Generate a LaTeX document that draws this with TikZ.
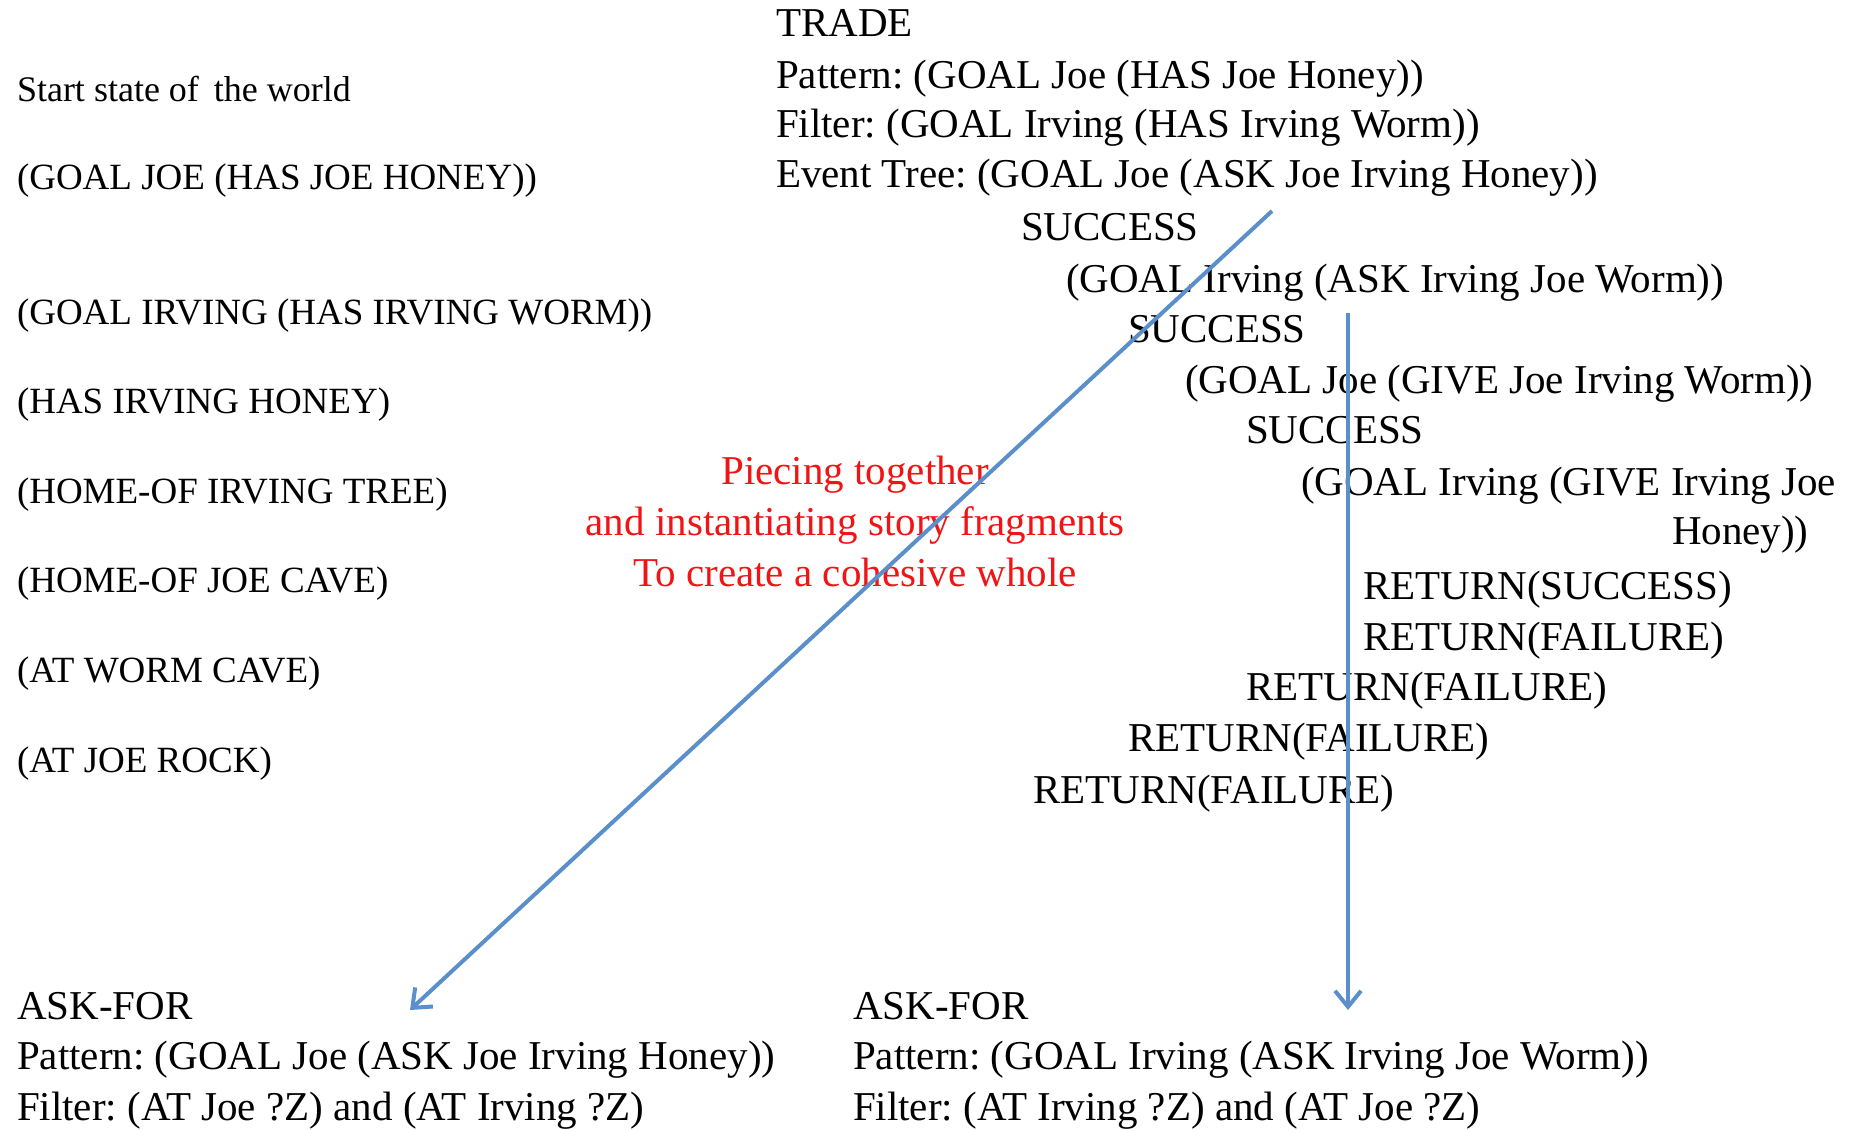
\documentclass[tikz,border=0pt]{standalone}
\usepackage{fontspec}
\setmainfont{Liberation Serif}
\usetikzlibrary{arrows.meta}
\definecolor{arrowblue}{RGB}{91,143,201}
\definecolor{txtred}{RGB}{240,20,20}
\begin{document}
\frenchspacing
\begin{tikzpicture}[x=1pt,y=-1pt,
  txt/.style={anchor=base west,inner sep=0pt,outer sep=0pt,font=\fontsize{41}{46}\selectfont},
  lefttxt/.style={anchor=base west,inner sep=0pt,outer sep=0pt,font=\fontsize{37}{42}\selectfont},
  redtxt/.style={anchor=base,inner sep=0pt,outer sep=0pt,text=txtred,font=\fontsize{41}{46}\selectfont},
  link/.style={draw=arrowblue,line width=4pt,-{Straight Barb[length=16pt,width=26pt,line width=4pt]}}]
\useasboundingbox (0,0) rectangle (1864,1130);
% left column
\node[lefttxt,font=\fontsize{36}{40}\selectfont] (start) at (17,101) {Start state of\, the world};
\node[lefttxt] (l1) at (17,189) {(GOAL JOE (HAS JOE HONEY))};
\node[lefttxt] (l2) at (17,324) {(GOAL IRVING (HAS IRVING WORM))};
\node[lefttxt] (l3) at (17,413) {(HAS IRVING HONEY)};
\node[lefttxt] (l4) at (17,503) {(HOME-OF IRVING TREE)};
\node[lefttxt] (l5) at (17,592) {(HOME-OF JOE CAVE)};
\node[lefttxt] (l6) at (17,682) {(AT WORM CAVE)};
\node[lefttxt] (l7) at (17,772) {(AT JOE ROCK)};
% TRADE block
\node[txt] (trade) at (776,36) {TRADE};
\node[txt] (tpat) at (776,88) {Pattern: (GOAL Joe (HAS Joe Honey))};
\node[txt] (tfil) at (776,137) {Filter: (GOAL Irving (HAS Irving Worm))};
\node[txt] (tev) at (776,187) {Event Tree: (GOAL Joe (ASK Joe Irving Honey))};
\node[txt] (s1) at (1021,240) {SUCCESS};
\node[txt] (g2) at (1066,292) {(GOAL Irving (ASK Irving Joe Worm))};
\node[txt] (s2) at (1128,342) {SUCCESS};
\node[txt] (g3) at (1185,393) {(GOAL Joe (GIVE Joe Irving Worm))};
\node[txt] (s3) at (1246,443) {SUCCESS};
\node[txt] (g4) at (1301,495) {(GOAL Irving (GIVE Irving Joe};
\node[txt] (g4b) at (1672,544) {Honey))};
\node[txt] (r1) at (1363,599) {RETURN(SUCCESS)};
\node[txt] (r2) at (1363,650) {RETURN(FAILURE)};
\node[txt] (r3) at (1246,700) {RETURN(FAILURE)};
\node[txt] (r4) at (1128,751) {RETURN(FAILURE)};
\node[txt] (r5) at (1033,803) {RETURN(FAILURE)};
% red note
\node[redtxt] (n1) at (855,484) {Piecing together};
\node[redtxt] (n2) at (855,535) {and instantiating story fragments};
\node[redtxt] (n3) at (855,586) {To create a cohesive whole};
% ASK-FOR blocks
\node[txt] (a1) at (17,1019) {ASK-FOR};
\node[txt] (a1p) at (17,1069) {Pattern: (GOAL Joe (ASK Joe Irving Honey))};
\node[txt] (a1f) at (17,1120) {Filter: (AT Joe ?Z) and (AT Irving ?Z)};
\node[txt] (a2) at (853,1019) {ASK-FOR};
\node[txt] (a2p) at (853,1069) {Pattern: (GOAL Irving (ASK Irving Joe Worm))};
\node[txt] (a2f) at (853,1120) {Filter: (AT Irving ?Z) and (AT Joe ?Z)};
% arrows
\coordinate (d1) at (1272,211);
\coordinate (d2) at (410,1010);
\coordinate (v1) at (1348,313);
\coordinate (v2) at (1348,1010);
\draw[link] (d1) -- (d2);
\draw[link] (v1) -- (v2);
\end{tikzpicture}
\end{document}
